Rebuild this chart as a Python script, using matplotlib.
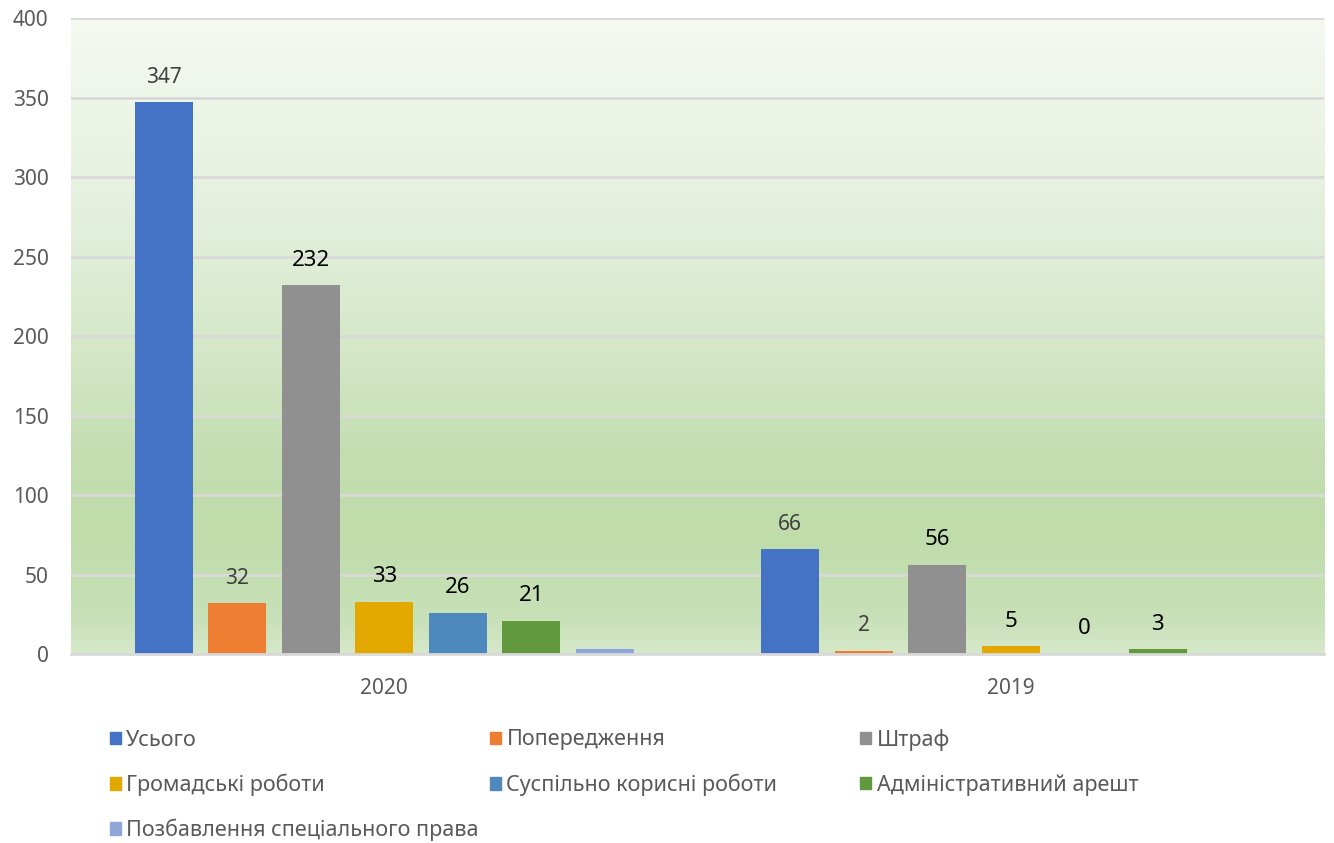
import numpy as np
import matplotlib
matplotlib.use('Agg')
import matplotlib.pyplot as plt
from matplotlib.colors import LinearSegmentedColormap
from matplotlib.patches import Patch

plt.rcParams['font.family'] = ['Noto Sans', 'DejaVu Sans']

years = ['2020', '2019']
series = ['Усього', 'Попередження', 'Штраф', 'Громадські роботи',
          'Суспільно корисні роботи', 'Адміністративний арешт',
          'Позбавлення спеціального права']
values = [
    [347, 66],
    [32, 2],
    [232, 56],
    [33, 5],
    [26, 0],
    [21, 3],
    [3, 0],
]
# which labels are shown, and which are drawn in grey
show_label = [[True, True], [True, True], [True, True], [True, True],
              [True, True], [True, True], [False, False]]
grey_label = [True, True, False, False, False, False, False]

colors = ['#4472c4', '#ed7d31', '#909090', '#e2a800', '#4e89bd', '#62993e', '#8fa7d8']

fig = plt.figure(figsize=(13.34, 8.43), dpi=100)
ax = fig.add_axes([0.0532, 0.2242, 0.9393, 0.7544])

# gradient background
stops = [(0.0, '#d5e8c9'), (0.053, '#c8e1b8'), (0.195, '#bfdcaa'),
         (0.321, '#c4deb2'), (0.462, '#d3e7c6'), (0.667, '#e2efda'),
         (1.0, '#f5f9f2')]
cmap = LinearSegmentedColormap.from_list('bg', stops)
grad = np.linspace(0, 1, 256).reshape(-1, 1)
ax.imshow(grad, cmap=cmap, origin='lower', aspect='auto',
          extent=[0, 1, 0, 1], transform=ax.transAxes, zorder=0)

x = np.arange(len(years))
width = 0.0926
step = 0.1173
n = len(series)
for i, name in enumerate(series):
    pos = x + (i - (n - 1) / 2) * step
    ax.bar(pos, values[i], width, color=colors[i], zorder=3, label=name)
    for j in range(len(years)):
        if not show_label[i][j]:
            continue
        if grey_label[i]:
            fs, col = 15, '#404040'
        else:
            fs, col = 16, 'black'
        ax.annotate(str(values[i][j]), (pos[j], values[i][j]), xytext=(0, 18),
                    textcoords='offset points', ha='center', va='center',
                    fontsize=fs, color=col, zorder=4)

ax.set_xlim(-0.5, 1.5)
ax.set_ylim(0, 400)
ax.set_yticks(np.arange(0, 401, 50))
ax.set_xticks(x)
ax.set_xticklabels(years)
ax.yaxis.grid(True, color='#d9d9d9', linewidth=2, zorder=1)
ax.set_axisbelow(True)
for s in ['top', 'right', 'left']:
    ax.spines[s].set_visible(False)
ax.spines['bottom'].set_color('#d9d9d9')
ax.spines['bottom'].set_linewidth(2)
ax.spines['bottom'].set_zorder(5)
ax.tick_params(axis='both', length=0, labelsize=15, colors='#595959')
ax.tick_params(axis='x', pad=17)
ax.tick_params(axis='y', pad=16)

# legend laid out row by row in three columns
col_x = [0.0825, 0.3675, 0.645]
row_y = [1 - 740 / 843, 1 - 785 / 843, 1 - 830 / 843]
for k, name in enumerate(series):
    r, c = divmod(k, 3)
    leg = fig.legend([Patch(color=colors[k])], [name], loc='center left',
                     bbox_to_anchor=(col_x[c], row_y[r]), frameon=False,
                     fontsize=15.5, handlelength=0.5, handleheight=0.5,
                     handletextpad=0.25, borderaxespad=0, borderpad=0)
    for t in leg.get_texts():
        t.set_color('#595959')

fig.savefig('out.png', dpi=100)
